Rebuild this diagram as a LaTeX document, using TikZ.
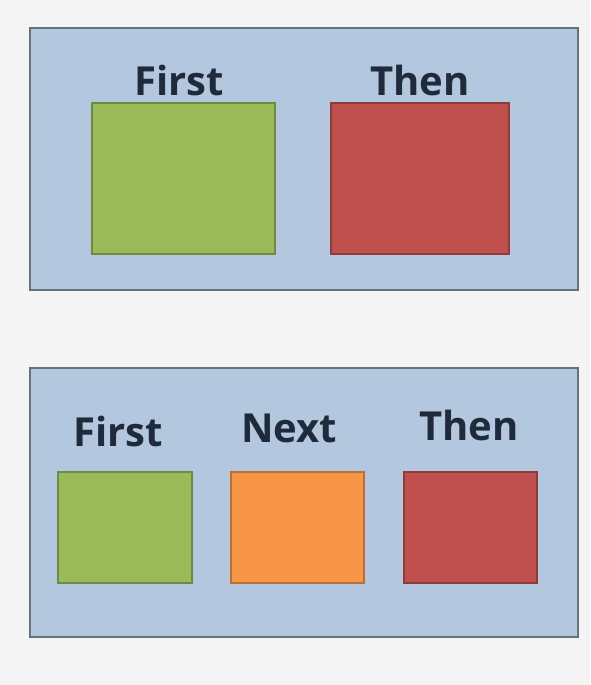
\documentclass[tikz,border=0pt]{standalone}
\usepackage{fontspec}
\setmainfont{Open Sans}
\definecolor{bgc}{HTML}{F4F4F4}
\definecolor{panelc}{HTML}{B3C7DF}
\definecolor{panelb}{HTML}{66737F}
\definecolor{greenc}{HTML}{9BBB59}
\definecolor{greenb}{HTML}{6E8A45}
\definecolor{redc}{HTML}{C0504D}
\definecolor{redb}{HTML}{8E3B39}
\definecolor{orangec}{HTML}{F79646}
\definecolor{orangeb}{HTML}{B86E35}
\definecolor{txtc}{HTML}{1F2B3A}
\tikzset{
  panel/.style={fill=panelc, draw=panelb, line width=2.5pt},
  sq/.style={line width=1.5pt},
  lbl/.style={anchor=base, text=txtc, font=\fontsize{40}{46}\selectfont\bfseries, inner sep=0pt}
}
\begin{document}
\begin{tikzpicture}[x=1pt,y=-1pt]
\fill[bgc] (0,0) rectangle (590,685);
\useasboundingbox (0,0) rectangle (590,685);
% top panel
\draw[panel] (30,28) rectangle (578,290);
\draw[sq, fill=greenc, draw=greenb] (92,103) rectangle (275,254);
\draw[sq, fill=redc, draw=redb] (331,103) rectangle (509,254);
\node[lbl] (t1) at (179,95) {First};
\node[lbl] (t2) at (420,95) {Then};
% bottom panel
\draw[panel] (30,368) rectangle (578,637);
\draw[sq, fill=greenc, draw=greenb] (58,472) rectangle (192,583);
\draw[sq, fill=orangec, draw=orangeb] (231,472) rectangle (364,583);
\draw[sq, fill=redc, draw=redb] (404,472) rectangle (537,583);
\node[lbl] (b1) at (118,446) {First};
\node[lbl] (b2) at (289,442) {Next};
\node[lbl] (b3) at (469,440) {Then};
\end{tikzpicture}
\end{document}
